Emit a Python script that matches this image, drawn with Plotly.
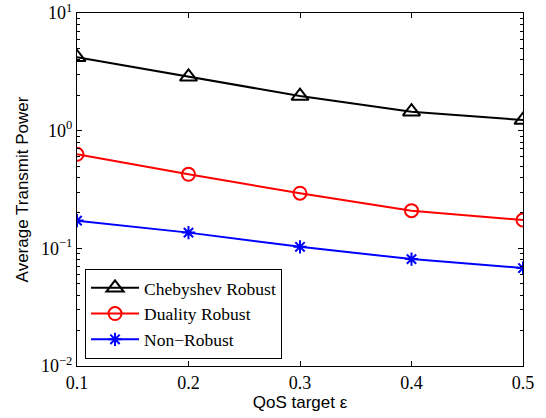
import plotly.graph_objects as go

qos = [0.1, 0.2, 0.3, 0.4, 0.5]
chebyshev = [4.2, 2.87, 1.97, 1.45, 1.23]
duality = [0.63, 0.426, 0.294, 0.209, 0.174]
nonrobust = [0.172, 0.136, 0.103, 0.081, 0.068]

x_ticks = [0.1, 0.2, 0.3, 0.4, 0.5]
x_ticktext = ["0.1", "0.2", "0.3", "0.4", "0.5"]
y_ticks = [0.01, 0.1, 1, 10]
y_ticktext = ["10<sup>\u22122</sup>", "10<sup>\u22121</sup>", "10<sup>0</sup>", "10<sup>1</sup>"]
y_minor = [m * d for d in [0.01, 0.1, 1] for m in range(2, 10)]

fig = go.Figure()
fig.add_trace(go.Scatter(x=qos, y=chebyshev, mode="lines+markers", name="Chebyshev Robust",
                         line=dict(color="black", width=2),
                         marker=dict(symbol="triangle-up-open", size=15, color="black",
                                     line=dict(width=2, color="black"))))
fig.add_trace(go.Scatter(x=qos, y=duality, mode="lines+markers", name="Duality Robust",
                         line=dict(color="red", width=2),
                         marker=dict(symbol="circle-open", size=13, color="red",
                                     line=dict(width=2, color="red"))))
fig.add_trace(go.Scatter(x=qos, y=nonrobust, mode="lines+markers", name="Non\u2212Robust",
                         line=dict(color="blue", width=2),
                         marker=dict(symbol="asterisk-open", size=11, color="blue",
                                     line=dict(width=2, color="blue"))))

fig.update_layout(
    width=546, height=418,
    margin=dict(l=77, r=23, t=13, b=52),
    paper_bgcolor="white", plot_bgcolor="white",
    font=dict(family="Liberation Serif", size=15, color="black"),
    showlegend=True,
    legend=dict(x=0.018, y=0.275, xanchor="left", yanchor="top",
                bgcolor="white", bordercolor="black", borderwidth=1,
                font=dict(family="Liberation Serif", size=17.5, color="black"),
                tracegroupgap=0, itemwidth=48),
)
fig.update_xaxes(range=[0.1, 0.5], tickmode="array", tickvals=x_ticks, ticktext=x_ticktext,
                 ticks="inside", ticklen=5, tickcolor="black", mirror="allticks", automargin=False,
                 showline=True, linecolor="black", linewidth=1, showgrid=False, zeroline=False,
                 tickfont=dict(family="Liberation Serif", size=18),
                 title=dict(text="QoS target \u03b5", font=dict(family="Liberation Sans", size=17), standoff=3))
fig.update_yaxes(type="log", range=[-2, 1], tickmode="array", tickvals=y_ticks, ticktext=y_ticktext,
                 ticks="inside", ticklen=5, tickcolor="black", mirror="allticks", automargin=False,
                 showline=True, linecolor="black", linewidth=1, showgrid=False, zeroline=False,
                 tickfont=dict(family="Liberation Serif", size=18),
                 minor=dict(tickmode="array", tickvals=y_minor, ticks="inside", ticklen=3,
                            tickcolor="black", showgrid=False),
                 title=dict(text="Average Transmit Power", font=dict(family="Liberation Sans", size=17), standoff=8))

fig.write_html("out.html", config={"displayModeBar": False},
               post_script="document.body.style.margin='0px';")
